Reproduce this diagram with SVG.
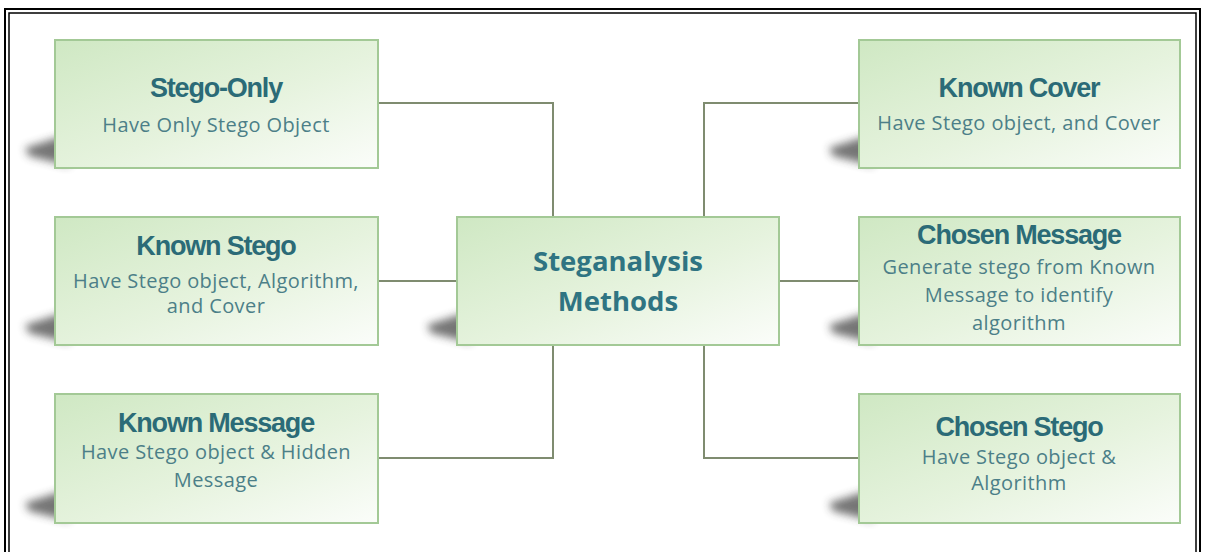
<svg xmlns="http://www.w3.org/2000/svg" width="1206" height="552" viewBox="0 0 1206 552">
<defs>
<linearGradient id="g" x1="0" y1="0" x2="1" y2="1">
<stop offset="0" stop-color="#cfe8c3"/>
<stop offset="0.55" stop-color="#e6f3de"/>
<stop offset="1" stop-color="#fbfdfa"/>
</linearGradient>
<filter id="blur" x="-50%" y="-50%" width="200%" height="200%">
<feGaussianBlur stdDeviation="4"/>
</filter>
<path id="sh" d="M 14 -34 L -30 -20 L -26 -12 L 14 -2 Z"/>
</defs>
<style>
.box{fill:url(#g);stroke:#a3c996;stroke-width:2}
.shadow{fill:#3a3a3a;opacity:0.7;filter:url(#blur)}
.t{font-family:"Liberation Sans",Arial,sans-serif;font-weight:bold;font-size:27px;fill:#2b6b77;text-anchor:middle;letter-spacing:-1.2px}
.s{font-family:"Open Sans","Liberation Sans",sans-serif;font-size:20px;fill:#4c7f88;text-anchor:middle;letter-spacing:0.4px}
.c{font-family:"Open Sans","Liberation Sans",sans-serif;font-weight:bold;font-size:27.5px;fill:#2f7482;text-anchor:middle}
.ln{fill:none;stroke:#7f8c70;stroke-width:2}
</style>
<rect x="0" y="0" width="1206" height="552" fill="#ffffff"/>
<rect x="5" y="9" width="1195" height="560" fill="none" stroke="#000" stroke-width="2"/>
<rect x="9" y="13" width="1187" height="552" fill="none" stroke="#000" stroke-width="1.5"/>
<g id="connectors">
<path class="ln" d="M378 103 H553 V217"/>
<path class="ln" d="M378 281 H457"/>
<path class="ln" d="M378 458 H553 V345"/>
<path class="ln" d="M859 103 H704 V217"/>
<path class="ln" d="M779 281 H859"/>
<path class="ln" d="M859 458 H704 V345"/>
</g>
<g id="stego-only">
<use href="#sh" class="shadow" transform="translate(55 168)"/>
<rect class="box" x="55" y="40" width="323" height="128"/>
<text class="t" x="216" y="97">Stego-Only</text>
<text class="s" x="216" y="132">Have Only Stego Object</text>
</g>
<g id="known-stego">
<use href="#sh" class="shadow" transform="translate(55 345)"/>
<rect class="box" x="55" y="217" width="323" height="128"/>
<text class="t" x="216" y="255">Known Stego</text>
<text class="s" x="216" y="288">Have Stego object, Algorithm,</text>
<text class="s" x="216" y="313">and Cover</text>
</g>
<g id="known-message">
<use href="#sh" class="shadow" transform="translate(55 523)"/>
<rect class="box" x="55" y="394" width="323" height="129"/>
<text class="t" x="216" y="432">Known Message</text>
<text class="s" x="216" y="459">Have Stego object &amp; Hidden</text>
<text class="s" x="216" y="487">Message</text>
</g>
<g id="center">
<use href="#sh" class="shadow" transform="translate(457 345)"/>
<rect class="box" x="457" y="217" width="322" height="128"/>
<text class="c" x="618" y="271">Steganalysis</text>
<text class="c" x="618" y="311">Methods</text>
</g>
<g id="known-cover">
<use href="#sh" class="shadow" transform="translate(859 168)"/>
<rect class="box" x="859" y="40" width="321" height="128"/>
<text class="t" x="1019" y="97">Known Cover</text>
<text class="s" x="1019" y="130">Have Stego object, and Cover</text>
</g>
<g id="chosen-message">
<use href="#sh" class="shadow" transform="translate(859 345)"/>
<rect class="box" x="859" y="217" width="321" height="128"/>
<text class="t" x="1019" y="244">Chosen Message</text>
<text class="s" x="1019" y="274">Generate stego from Known</text>
<text class="s" x="1019" y="302">Message to identify</text>
<text class="s" x="1019" y="330">algorithm</text>
</g>
<g id="chosen-stego">
<use href="#sh" class="shadow" transform="translate(859 523)"/>
<rect class="box" x="859" y="394" width="321" height="129"/>
<text class="t" x="1019" y="436">Chosen Stego</text>
<text class="s" x="1019" y="464">Have Stego object &amp;</text>
<text class="s" x="1019" y="490">Algorithm</text>
</g>
</svg>
